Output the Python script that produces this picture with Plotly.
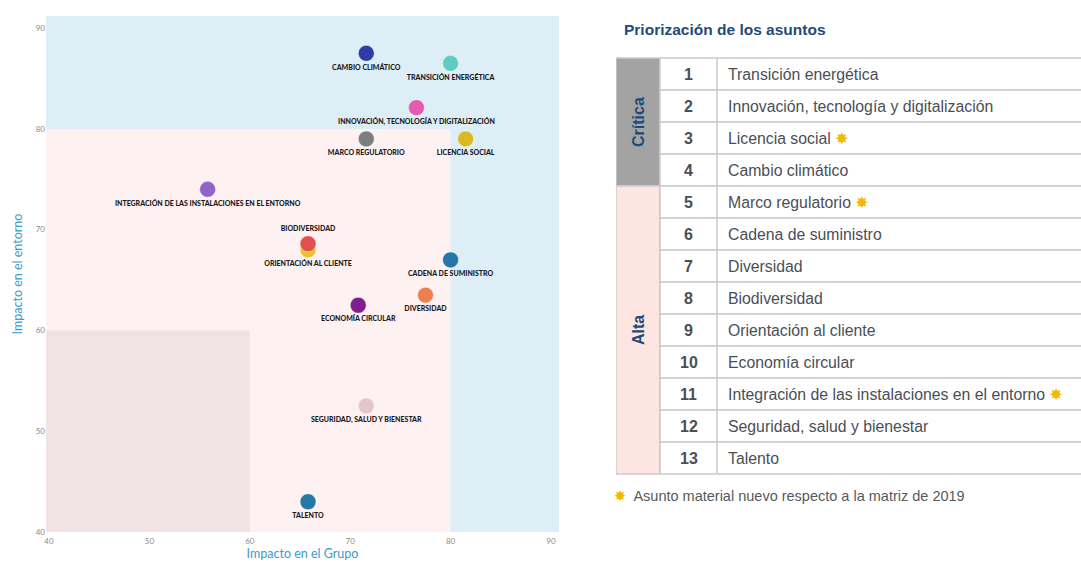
import plotly.graph_objects as go

# ---------------- data: materiality matrix ----------------
asuntos = ["ORIENTACIÓN AL CLIENTE", "CAMBIO CLIMÁTICO", "TRANSICIÓN ENERGÉTICA",
           "INNOVACIÓN, TECNOLOGÍA Y DIGITALIZACIÓN", "MARCO REGULATORIO", "LICENCIA SOCIAL",
           "INTEGRACIÓN DE LAS INSTALACIONES EN EL ENTORNO", "BIODIVERSIDAD",
           "CADENA DE SUMINISTRO", "DIVERSIDAD", "ECONOMÍA CIRCULAR",
           "SEGURIDAD, SALUD Y BIENESTAR", "TALENTO"]
impacto_grupo = [65.8, 71.6, 80.0, 76.6, 71.6, 81.5, 55.8, 65.8, 80.0, 77.5, 70.8, 71.6, 65.8]
impacto_entorno = [68.0, 87.5, 86.5, 82.1, 79.0, 79.0, 74.0, 68.6, 67.0, 63.5, 62.5, 52.5, 43.0]
colores = ["#E6C42C", "#2E3CA6", "#5ECCC1", "#E45BB1", "#7B7F82", "#DAB923", "#8E64C9",
           "#E1504F", "#2577A9", "#EE8050", "#801E8B", "#E4C5C9", "#2679A7"]
posicion_texto = ["bottom center"] * 7 + ["top center"] + ["bottom center"] * 5

ticks = [40, 50, 60, 70, 80, 90]

# ---------------- data: table ----------------
numeros = list(range(1, 14))
asuntos_tabla = ["Transición energética", "Innovación, tecnología y digitalización",
                 "Licencia social", "Cambio climático", "Marco regulatorio",
                 "Cadena de suministro", "Diversidad", "Biodiversidad",
                 "Orientación al cliente", "Economía circular",
                 "Integración de las instalaciones en el entorno",
                 "Seguridad, salud y bienestar", "Talento"]
nuevo = [False, False, True, False, True, False, False, False, False, False, True, False, False]
categorias = ["Crítica", "Alta"]
filas_categoria = [4, 9]
colores_categoria = ["#A3A3A3", "#FDE5E2"]

STAR = "✸"
STAR_COLOR = "#F5B800"
TXT = "#4A4F56"
BORDER = "#CACACA"

fig = go.Figure()

fig.add_trace(go.Scatter(
    x=impacto_grupo, y=impacto_entorno, mode="markers+text",
    text=asuntos, textposition=posicion_texto,
    textfont=dict(family="Lato", size=7, color="#1E1A1B", weight=900),
    marker=dict(size=16, color=colores, line=dict(color="rgba(255,255,255,0.6)", width=0.8)),
    hoverinfo="skip", showlegend=False, cliponaxis=False,
))

# background regions
fig.add_shape(type="rect", xref="x domain", yref="y domain", x0=0, x1=1, y0=0, y1=1,
              fillcolor="#DDEEF6", line_width=0, layer="below")
fig.add_shape(type="rect", xref="x", yref="y", x0=39.7, x1=80, y0=40, y1=80,
              fillcolor="#FDF1F2", line_width=0, layer="below")
fig.add_shape(type="rect", xref="x", yref="y", x0=39.7, x1=60, y0=40, y1=60,
              fillcolor="#F1E2E4", line_width=0, layer="below")

# ---------------- table on x2/y2 ----------------
C0, C1, C2, C3 = 0, 44, 101, 466
start = 0
for cat, n, col in zip(categorias, filas_categoria, colores_categoria):
    fig.add_shape(type="rect", xref="x2", yref="y2", x0=C0, x1=C1, y0=start, y1=start + n,
                  fillcolor=col, line=dict(color=BORDER, width=1.5))
    fig.add_annotation(xref="x2", yref="y2", x=(C0 + C1) / 2, y=start + n / 2, text="<b>%s</b>" % cat,
                       textangle=-90, showarrow=False,
                       font=dict(family="Liberation Sans", size=16, color="#1F4A7A"))
    start += n

for i, (num, txt, nv) in enumerate(zip(numeros, asuntos_tabla, nuevo)):
    fig.add_shape(type="rect", xref="x2", yref="y2", x0=C1, x1=C3, y0=i, y1=i + 1,
                  fillcolor="white", line=dict(color=BORDER, width=1.5))
    fig.add_shape(type="line", xref="x2", yref="y2", x0=C2, x1=C2, y0=i, y1=i + 1,
                  line=dict(color=BORDER, width=1.5))
    fig.add_annotation(xref="x2", yref="y2", x=(C1 + C2) / 2, y=i + 0.5, text="<b>%d</b>" % num,
                       showarrow=False, font=dict(family="Liberation Sans", size=16, color=TXT))
    t = txt + (' <span style="color:%s;font-family:DejaVu Sans">%s</span>' % (STAR_COLOR, STAR) if nv else "")
    fig.add_annotation(xref="x2", yref="y2", x=C2 + 9, y=i + 0.5, text=t, xanchor="left",
                       showarrow=False, font=dict(family="Liberation Sans", size=15.8, color=TXT))

fig.add_annotation(xref="x2", yref="y2", x=6, y=-0.88, text="<b>Priorización de los asuntos</b>",
                   xanchor="left", showarrow=False,
                   font=dict(family="Liberation Sans", size=15.5, color="#1F4A7A"))
fig.add_annotation(xref="x2", yref="y2", x=0, xshift=-4, y=13.69,
                   text='<span style="color:%s;font-family:DejaVu Sans">%s</span>  Asunto material nuevo respecto a la matriz de 2019' % (STAR_COLOR, STAR),
                   xanchor="left", showarrow=False,
                   font=dict(family="Liberation Sans", size=14.5, color="#555A60"))

W, H = 1081, 563
fig.update_layout(
    width=W, height=H, margin=dict(l=0, r=0, t=0, b=0, autoexpand=False),
    paper_bgcolor="white", plot_bgcolor="white",
    xaxis=dict(domain=[46 / W, 559 / W], range=[39.7, 90.8], tickvals=ticks, automargin=False,
               showgrid=False, zeroline=False, showline=False, ticks="", ticklabelstandoff=3,
               tickfont=dict(family="Lato", size=8, color="#8A8A8A"),
               title=dict(text="Impacto en el Grupo", standoff=4,
                          font=dict(family="Lato", size=12.5, color="#3C9BC9"))),
    yaxis=dict(domain=[1 - 532 / H, 1 - 16 / H], range=[40, 91.2], tickvals=ticks, automargin=False,
               showgrid=False, zeroline=False, showline=False, ticks="",
               tickfont=dict(family="Lato", size=8, color="#8A8A8A"),
               title=dict(text="Impacto en el entorno", standoff=10,
                          font=dict(family="Lato", size=12.5, color="#3C9BC9"))),
    xaxis2=dict(domain=[616 / W, 1], range=[0, 465], visible=False, fixedrange=True, automargin=False),
    yaxis2=dict(domain=[0, 1], range=[(H - 58) / 32, -58 / 32], visible=False, fixedrange=True,
                anchor="x2", automargin=False),
)
fig.update_layout(xaxis2_anchor="y2")

fig.write_html("out.html", config={"displayModeBar": False},
               post_script="document.body.style.margin='0';document.body.style.overflow='hidden';")
